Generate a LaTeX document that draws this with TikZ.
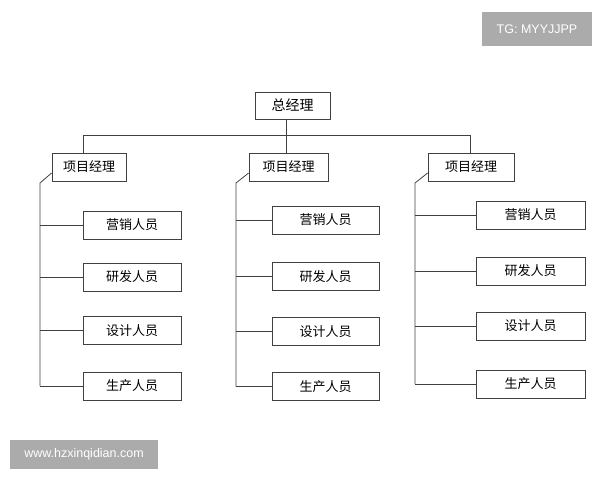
\documentclass[tikz,border=0pt]{standalone}
\usepackage{fontspec}
\newfontfamily\cjk{Noto Sans CJK SC}
\setsansfont{Liberation Sans}
\begin{document}
\begin{tikzpicture}[x=1pt,y=-1pt,
 bx/.style={draw=black!75,line width=0.8pt,rectangle,inner sep=0,font=\cjk\fontsize{13}{13}\selectfont},
 ln/.style={draw=black!75,line width=0.8pt},
 wm/.style={fill=black!33,inner sep=0,text=white,font=\sffamily\fontsize{12.5}{12.5}\selectfont}]
\useasboundingbox (0,0) rectangle (600,480);
\node[wm,minimum width=110,minimum height=34] (tg) at (537,29) {TG: MYYJJPP};
\node[wm,minimum width=148,minimum height=29] (www) at (84,454) {www.hzxinqidian.com};
\node[bx,minimum width=75,minimum height=27,font=\cjk\fontsize{14}{14}\selectfont] (top) at (292.5,105.5) {总经理};
\coordinate (busL) at (83,135); \coordinate (busR) at (470,135);
\coordinate (busM) at (286,135);
\draw[ln] (top.south -| busM) -- (busM);
\draw[ln] (busL) -- (busR);
\node[bx,minimum width=74,minimum height=28] (m1) at (89,167) {项目经理};
\node[bx,minimum width=79,minimum height=28] (m2) at (288.5,167) {项目经理};
\node[bx,minimum width=86,minimum height=28] (m3) at (471,167) {项目经理};
\draw[ln] (busL) -- (m1.north -| busL);
\draw[ln] (busR) -- (m3.north -| busR);
\draw[ln] (busM) -- (m2.north -| busM);
\foreach \m/\vx/\cx/\w/\ya/\yb/\yc/\yd in {m1/40/132/98/225/277/330.5/386, m2/236/325.5/107/220/276.5/331.5/386.5, m3/415/530.5/109/215/271/326/384}{
  \coordinate (\m t) at (\vx,183);
  \coordinate (\m b) at (\vx,\yd);
  \draw[ln] (\m.west |- 0,173) -- (\m t) -- (\m b);
  \foreach \y/\t in {\ya/营销人员,\yb/研发人员,\yc/设计人员,\yd/生产人员}{
    \node[bx,minimum width=\w,minimum height=28] (\m\t) at (\cx,\y) {\t};
    \draw[ln] (\vx,\y) -- (\m\t.west);
  }
}
\end{tikzpicture}
\end{document}
